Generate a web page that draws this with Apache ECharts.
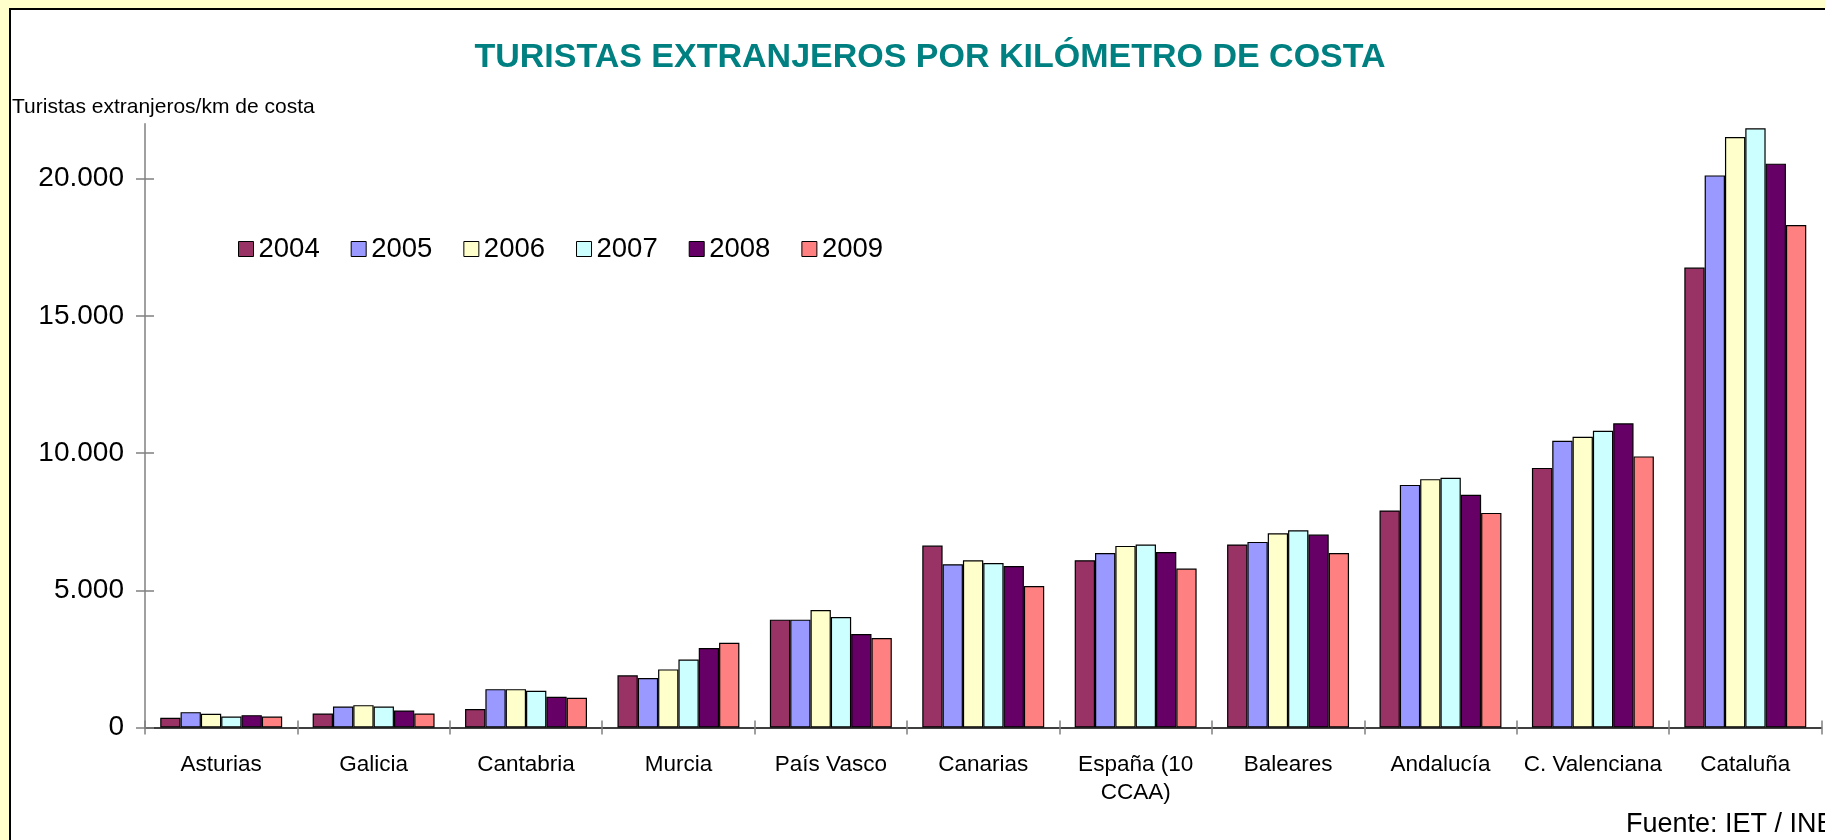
<!DOCTYPE html>
<html>
<head>
<meta charset="utf-8">
<script src="https://cdn.jsdelivr.net/npm/echarts@6/dist/echarts.min.js"></script>
<style>
  html, body { margin: 0; padding: 0; background: #FFFFCC; }
  #wrap { position: relative; width: 1825px; height: 840px; overflow: hidden; background: #FFFFCC; }
  #frame { position: absolute; left: 9px; top: 8px; width: 1900px; height: 900px; background: #FFFFFF; border: 2px solid #000; box-sizing: border-box; }
  #chart { position: absolute; left: 0; top: 0; width: 1825px; height: 840px; }
</style>
</head>
<body>
<div id="wrap"><div id="frame"></div><div id="chart"></div></div>
<script>
const categories = ["Asturias", "Galicia", "Cantabria", "Murcia", "País Vasco", "Canarias", "España (10\nCCAA)", "Baleares", "Andalucía", "C. Valenciana", "Cataluña"];
const years = ["2004", "2005", "2006", "2007", "2008", "2009"];
const v2004 = [354, 510, 670, 1900, 3930, 6630, 6095, 6670, 7910, 9460, 16760];
const v2005 = [560, 766, 1398, 1800, 3930, 5950, 6360, 6763, 8840, 10450, 20120];
const v2006 = [500, 815, 1398, 2117, 4280, 6095, 6617, 7080, 9050, 10595, 21520];
const v2007 = [400, 766, 1338, 2480, 4026, 5997, 6668, 7190, 9100, 10814, 21836];
const v2008 = [450, 620, 1120, 2895, 3406, 5887, 6398, 7032, 8478, 11084, 20547];
const v2009 = [400, 510, 1083, 3090, 3260, 5157, 5792, 6361, 7821, 9880, 18310];
const yTicks = [0, 5000, 10000, 15000, 20000];
const yMax = 22000;
const titleText = "TURISTAS EXTRANJEROS POR KILÓMETRO DE COSTA";
const yAxisName = "Turistas extranjeros/km de costa";
const sourceText = "Fuente: IET / INE";

const seriesValues = [v2004, v2005, v2006, v2007, v2008, v2009];
const colors = ["#993366", "#9999FF", "#FFFFCC", "#CCFFFF", "#660066", "#FF8080"];
const FONT = '"Liberation Sans", Arial, sans-serif';

function fmt(v) { return String(v).replace(/\B(?=(\d{3})+(?!\d))/g, '.'); }

const chart = echarts.init(document.getElementById('chart'), null, { renderer: 'canvas' });

const grid = { left: 145, right: 3.5, top: 123.8, bottom: 112.5, containLabel: false };

const option = {
  backgroundColor: 'transparent',
  animation: false,
  textStyle: { fontFamily: FONT },
  title: {
    text: titleText,
    left: 925,
    top: 36,
    textAlign: 'center',
    textStyle: { color: '#008080', fontWeight: 'bold', fontSize: 34, fontFamily: FONT }
  },
  legend: {
    data: years,
    left: 233,
    top: 230,
    itemWidth: 15,
    itemHeight: 15,
    itemGap: 31,
    icon: 'rect',
    itemStyle: { borderColor: '#000', borderWidth: 1 },
    textStyle: { fontSize: 27.5, color: '#000', fontFamily: FONT }
  },
  grid: grid,
  xAxis: [
    {
      type: 'category',
      data: categories,
      position: 'bottom',
      axisLine: { show: true, lineStyle: { color: '#000', width: 1.5 } },
      axisTick: { show: true, inside: false, length: 7, lineStyle: { color: '#808080', width: 1.5 } },
      axisLabel: { color: '#000', fontSize: 22.5, lineHeight: 28, margin: 23, interval: 0, fontFamily: FONT },
      splitLine: { show: false }
    },
    {
      type: 'category',
      data: categories,
      position: 'bottom',
      axisLine: { show: false },
      axisTick: { show: true, inside: true, length: 7, lineStyle: { color: '#808080', width: 1.5 } },
      axisLabel: { show: false },
      splitLine: { show: false }
    }
  ],
  yAxis: [
    {
      type: 'value',
      min: 0,
      max: yMax,
      interval: 5000,
      name: yAxisName,
      nameLocation: 'end',
      nameGap: 6,
      nameTextStyle: { color: '#000', fontSize: 21, align: 'left', padding: [0, 0, 0, -133], fontFamily: FONT },
      axisLine: { show: true, lineStyle: { color: '#808080', width: 1.5 } },
      axisTick: { show: true, inside: false, length: 9, customValues: yTicks, lineStyle: { color: '#808080', width: 1.5 } },
      axisLabel: { color: '#000', fontSize: 28, margin: 21, customValues: yTicks, formatter: fmt, fontFamily: FONT },
      splitLine: { show: false }
    },
    {
      type: 'value',
      min: 0,
      max: yMax,
      interval: 5000,
      position: 'left',
      axisLine: { show: false },
      axisTick: { show: true, inside: true, length: 9, customValues: yTicks, lineStyle: { color: '#808080', width: 1.5 } },
      axisLabel: { show: false },
      splitLine: { show: false }
    }
  ],
  graphic: [
    {
      type: 'text',
      left: 1626,
      top: 811,
      style: { text: sourceText, fill: '#000', font: '27px ' + FONT }
    }
  ],
  series: years.map((y, i) => ({
    name: y,
    type: 'bar',
    xAxisIndex: 0,
    yAxisIndex: 0,
    data: seriesValues[i],
    barGap: '0%',
    barCategoryGap: '20%',
    itemStyle: { color: colors[i], borderColor: '#000', borderWidth: 1.2 }
  }))
};

chart.setOption(option);
</script>
</body>
</html>
